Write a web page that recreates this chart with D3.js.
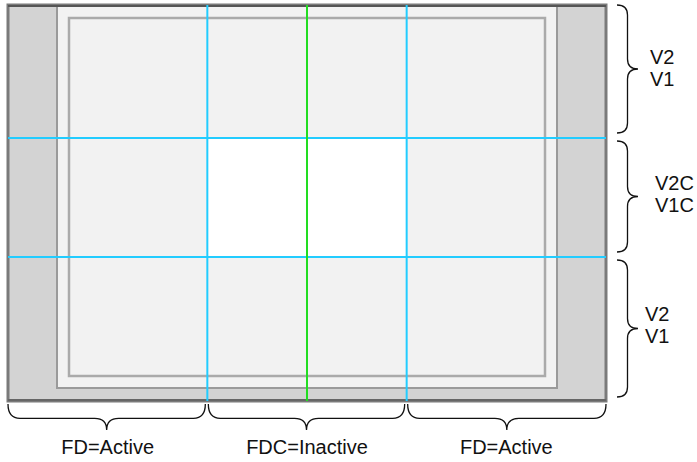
<!DOCTYPE html>
<html>
<head>
<meta charset="utf-8">
<script src="https://cdn.jsdelivr.net/npm/d3@7"></script>
<style>
  body { margin: 0; background: #fff; }
  svg text { font-family: "Liberation Sans", Arial, sans-serif; fill: #111; }
</style>
</head>
<body>
<svg id="canvas"></svg>
<script>
// columns along the bottom, rows along the right side
let colLabels = ['FD=Active', 'FDC=Inactive', 'FD=Active']
let rowLabels = [['V2', 'V1'], ['V2C', 'V1C'], ['V2', 'V1']]
let rowHeights = [133, 119, 144]

let width = 697,
height = 462

let canvas = d3.select('#canvas')
.attr('width', width)
.attr('height', height)

let rowEdges = [0]
rowHeights.forEach((h) => rowEdges.push(rowEdges[rowEdges.length - 1] + h))

let x = d3.scaleLinear().domain([0, colLabels.length]).range([8, 606])
let y = d3.scaleLinear().domain([0, rowEdges[rowEdges.length - 1]]).range([5, 401])

let fLeft = x(0), fRight = x(3), fTop = y(0), fBottom = y(rowEdges[3])

// outer frame with grey side panels
canvas.append('rect')
.attr('x', fLeft).attr('y', fTop)
.attr('width', fRight - fLeft).attr('height', fBottom - fTop)
.attr('fill', '#d3d3d3')
.attr('stroke', '#7a7a7a')
.attr('stroke-width', 3)

// middle light panel
canvas.append('rect')
.attr('x', fLeft + 49).attr('y', fTop + 1)
.attr('width', fRight - fLeft - 98).attr('height', fBottom - fTop - 14)
.attr('fill', '#f2f2f2')
.attr('stroke', '#9a9a9a')
.attr('stroke-width', 2)

// inner rectangle
canvas.append('rect')
.attr('x', fLeft + 61).attr('y', fTop + 13)
.attr('width', fRight - fLeft - 122).attr('height', fBottom - fTop - 38)
.attr('fill', '#f2f2f2')
.attr('stroke', '#aaaaaa')
.attr('stroke-width', 2.5)

// centre cell
canvas.append('rect')
.attr('x', x(1)).attr('y', y(rowEdges[1]))
.attr('width', x(2) - x(1)).attr('height', y(rowEdges[2]) - y(rowEdges[1]))
.attr('fill', '#ffffff')

// darker top and bottom edges
canvas.append('line')
.attr('x1', fLeft).attr('x2', fRight)
.attr('y1', fTop + 1).attr('y2', fTop + 1)
.attr('stroke', '#555').attr('stroke-width', 2)
canvas.append('line')
.attr('x1', fLeft).attr('x2', fRight)
.attr('y1', fBottom - 1).attr('y2', fBottom - 1)
.attr('stroke', '#666').attr('stroke-width', 2)

// cyan grid lines
canvas.selectAll('line.vgrid')
.data([1, 2])
.join('line')
.attr('class', 'vgrid')
.attr('x1', (d) => x(d)).attr('x2', (d) => x(d))
.attr('y1', fTop).attr('y2', fBottom)
.attr('stroke', '#22ccff').attr('stroke-width', 2)

canvas.selectAll('line.hgrid')
.data([rowEdges[1], rowEdges[2]])
.join('line')
.attr('class', 'hgrid')
.attr('x1', fLeft).attr('x2', fRight)
.attr('y1', (d) => y(d)).attr('y2', (d) => y(d))
.attr('stroke', '#22ccff').attr('stroke-width', 2)

// green centre line
canvas.append('line')
.attr('x1', x(1.5)).attr('x2', x(1.5))
.attr('y1', fTop).attr('y2', fBottom)
.attr('stroke', '#22dd22').attr('stroke-width', 2)

// braces
let vBrace = (y0, y1, x0, w) => {
    let r = 10, x1 = x0 + w * 0.5, x2 = x0 + w, ym = (y0 + y1) / 2
    return `M${x0},${y0} Q${x1},${y0} ${x1},${y0 + r} L${x1},${ym - r} Q${x1},${ym} ${x2},${ym} ` +
        `Q${x1},${ym} ${x1},${ym + r} L${x1},${y1 - r} Q${x1},${y1} ${x0},${y1}`
}
let hBrace = (x0, x1, y0, h) => {
    let r = 12, y1 = y0 + h * 0.55, y2 = y0 + h, xm = (x0 + x1) / 2
    return `M${x0},${y0} Q${x0},${y1} ${x0 + r},${y1} L${xm - r},${y1} Q${xm},${y1} ${xm},${y2} ` +
        `Q${xm},${y1} ${xm + r},${y1} L${x1 - r},${y1} Q${x1},${y1} ${x1},${y0}`
}

canvas.selectAll('path.rbrace')
.data(rowLabels)
.join('path')
.attr('class', 'rbrace')
.attr('d', (d, i) => vBrace(y(rowEdges[i]) + (i ? 3 : 0), y(rowEdges[i + 1]) - (i < 2 ? 5 : 4), 617, 21))
.attr('fill', 'none').attr('stroke', '#111').attr('stroke-width', 1.3)

canvas.selectAll('path.bbrace')
.data(colLabels)
.join('path')
.attr('class', 'bbrace')
.attr('d', (d, i) => hBrace(x(i) + (i ? 1 : 0), x(i + 1) - (i < 2 ? 2 : 0), 404, 26))
.attr('fill', 'none').attr('stroke', '#111').attr('stroke-width', 1.3)

// labels
let rowX = [650, 655, 645]
canvas.selectAll('text.rlab')
.data(rowLabels)
.join('text')
.attr('class', 'rlab')
.attr('font-size', 20)
.attr('x', (d, i) => rowX[i])
.attr('y', (d, i) => (y(rowEdges[i]) + y(rowEdges[i + 1])) / 2 - 8)
.selectAll('tspan')
.data((d) => d)
.join('tspan')
.attr('x', function () { return this.parentNode.getAttribute('x') })
.attr('dy', (d, j) => j ? 22 : 0)
.text((d) => d)

canvas.selectAll('text.blab')
.data(colLabels)
.join('text')
.attr('class', 'blab')
.attr('font-size', 20)
.attr('text-anchor', 'middle')
.attr('x', (d, i) => (x(i) + x(i + 1)) / 2)
.attr('y', 454)
.text((d) => d)
</script>
</body>
</html>
